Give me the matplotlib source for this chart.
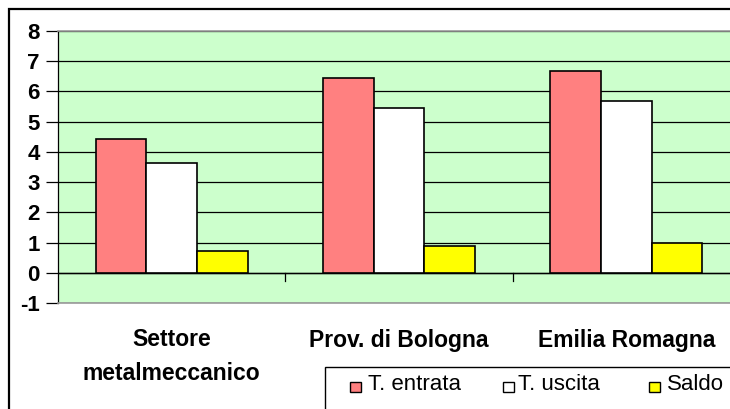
import matplotlib
matplotlib.use("Agg")
import matplotlib.pyplot as plt
from matplotlib.patches import Rectangle
import numpy as np

categories = ["Settore\nmetalmeccanico", "Prov. di Bologna", "Emilia Romagna"]
series_names = ["T. entrata", "T. uscita", "Saldo"]
t_entrata = [4.42, 6.45, 6.68]
t_uscita = [3.63, 5.45, 5.67]
saldo = [0.71, 0.90, 0.97]
colors = ["#FF8080", "#FFFFFF", "#FFFF00"]
yticks = [-1, 0, 1, 2, 3, 4, 5, 6, 7, 8]

W, H = 730, 409
plt.rcParams['font.family'] = ['Liberation Sans', 'DejaVu Sans']
fig = plt.figure(figsize=(W / 100, H / 100), dpi=100)

# outer chart border
fig.patches.append(Rectangle((9 / W, -0.05), 1.2, 1 - 9 / H + 0.05, transform=fig.transFigure,
                             fill=False, edgecolor="black", linewidth=1.6, zorder=0))

left, right, top, bottom = 58, 740, 31, 303
ax = fig.add_axes([left / W, 1 - bottom / H, (right - left) / W, (bottom - top) / H])
ax.set_facecolor("#CCFFCC")
ax.set_xlim(0, 3)
ax.set_ylim(-1, 8)

x = np.arange(len(categories)) + 0.5
bw = 50.5 / 227
for i, (vals, c) in enumerate(zip([t_entrata, t_uscita, saldo], colors)):
    ax.bar(x + (i - 1) * bw, vals, width=bw, color=c, edgecolor="black", linewidth=1.2, zorder=3,
           label=series_names[i])

ax.set_yticks(yticks)
ax.set_yticklabels([str(v) for v in yticks], fontsize=16, fontweight="bold")
ax.yaxis.grid(True, color="black", linewidth=0.9)
ax.set_axisbelow(True)
ax.tick_params(axis="y", length=9, width=0.9, pad=4)
ax.tick_params(axis="x", length=0)
ax.set_xticks([])
for s in ["top", "bottom", "right"]:
    ax.spines[s].set_color("#999999")
    ax.spines[s].set_linewidth(1.2)
ax.spines["left"].set_color("black")
ax.spines["left"].set_linewidth(0.9)

# zero axis line with category boundary ticks
ax.axhline(0, color="black", linewidth=1.0, zorder=2)
for b in [1, 2]:
    ax.plot([b, b], [0, -0.27], color="black", linewidth=0.9, zorder=2, clip_on=False)

# category labels (one text per line)
line_y = [340, 373]
for xi, lab in zip(x, categories):
    for j, line in enumerate(lab.split("\n")):
        fig.text(ax.transData.transform((xi, 0))[0] / fig.bbox.width, 1 - line_y[j] / H, line,
                 ha="center", va="center", fontsize=16.5, fontweight="bold")

# legend
fig.patches.append(Rectangle((325 / W, -0.05), 1.0, (409 - 367) / H + 0.05, transform=fig.transFigure,
                             facecolor="white", edgecolor="black", linewidth=1.0, zorder=5))
leg_items = [(355, 368), (508, 518), (654, 667)]
for (sx, tx), name, c in zip(leg_items, series_names, colors):
    fig.patches.append(Rectangle(((sx - 5.5) / W, 1 - 392 / H), 11 / W, 10 / H, transform=fig.transFigure,
                                 facecolor=c, edgecolor="black", linewidth=1.0, zorder=6))
    fig.text(tx / W, 1 - 384 / H, name, fontsize=16, ha="left", va="center", zorder=7)

fig.savefig("out.png", dpi=100)
